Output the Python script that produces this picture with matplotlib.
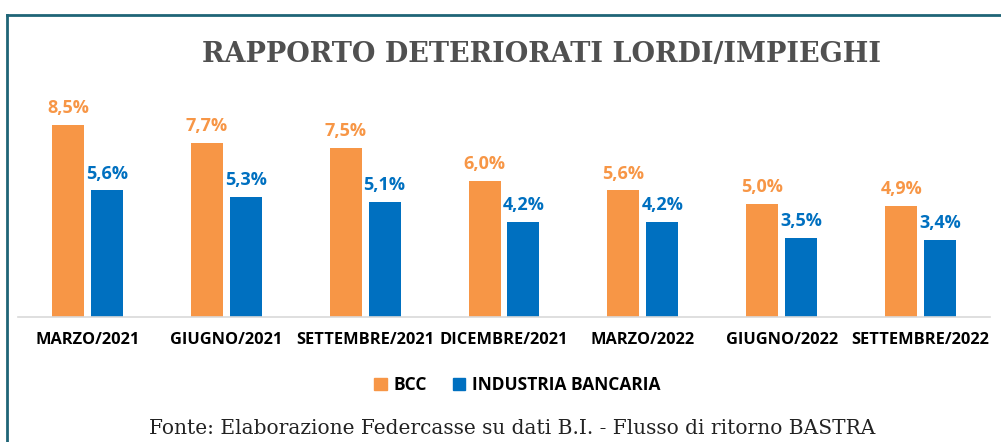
import numpy as np
import matplotlib.pyplot as plt
from matplotlib.patches import Rectangle
from matplotlib.lines import Line2D

categories = ['MARZO/2021', 'GIUGNO/2021', 'SETTEMBRE/2021', 'DICEMBRE/2021',
              'MARZO/2022', 'GIUGNO/2022', 'SETTEMBRE/2022']
bcc = [8.5, 7.7, 7.5, 6.0, 5.6, 5.0, 4.9]
industria = [5.6, 5.3, 5.1, 4.2, 4.2, 3.5, 3.4]
series_names = ['BCC', 'INDUSTRIA BANCARIA']

orange = '#F79646'
blue = '#0070C0'

fig = plt.figure(figsize=(10.01, 4.42), dpi=100)
ax = fig.add_axes([18 / 1001, 1 - 317 / 442, 972 / 1001, 226 / 442])

x = np.arange(len(categories))
w = 0.23
off = 0.14
b1 = ax.bar(x - off, bcc, w, color=orange)
b2 = ax.bar(x + off, industria, w, color=blue)

for xi, v in zip(x, bcc):
    ax.text(xi - off, v + 0.35, ('%.1f%%' % v).replace('.', ','), ha='center', va='bottom',
            color=orange, fontsize=13, fontweight='bold', family='Open Sans')
for xi, v in zip(x, industria):
    ax.text(xi + off, v + 0.35, ('%.1f%%' % v).replace('.', ','), ha='center', va='bottom',
            color=blue, fontsize=13, fontweight='bold', family='Open Sans')

ax.set_xlim(-0.5, len(categories) - 0.5)
ax.set_ylim(0, 10)
ax.set_yticks([])
ax.set_xticks(x)
ax.set_xticklabels(categories, fontsize=11.8, fontweight='bold', family='Open Sans')
ax.tick_params(axis='x', length=0, pad=11)
for s in ['top', 'right', 'left']:
    ax.spines[s].set_visible(False)
ax.spines['bottom'].set_color('#D9D9D9')
ax.spines['bottom'].set_linewidth(1.2)

fig.text(0.541, 1 - 55 / 442, 'RAPPORTO DETERIORATI LORDI/IMPIEGHI', ha='center', va='center',
         fontsize=19.5, fontweight='heavy', color='#505050', family='DejaVu Serif')

handles = [Rectangle((0, 0), 1, 1, color=orange), Rectangle((0, 0), 1, 1, color=blue)]
leg = fig.legend(handles, series_names, loc='center', bbox_to_anchor=(0.517, 1 - 385 / 442),
                 ncol=2, frameon=False, handlelength=0.7, handleheight=0.7, columnspacing=1.5,
                 handletextpad=0.4, prop={'family': 'Open Sans', 'weight': 'bold', 'size': 12.5})

fig.text(0.512, 1 - 428 / 442, 'Fonte: Elaborazione Federcasse su dati B.I. - Flusso di ritorno BASTRA',
         ha='center', va='center', fontsize=14.5, color='#222222', family='DejaVu Serif')

# frame
fig.add_artist(Line2D([7 / 1001, 7 / 1001], [0, 1 - 15 / 442], color='#1F6577', lw=2, transform=fig.transFigure))
fig.add_artist(Line2D([7 / 1001, 1], [1 - 15 / 442, 1 - 15 / 442], color='#1F6577', lw=2, transform=fig.transFigure))

fig.savefig('out.png', dpi=100)
